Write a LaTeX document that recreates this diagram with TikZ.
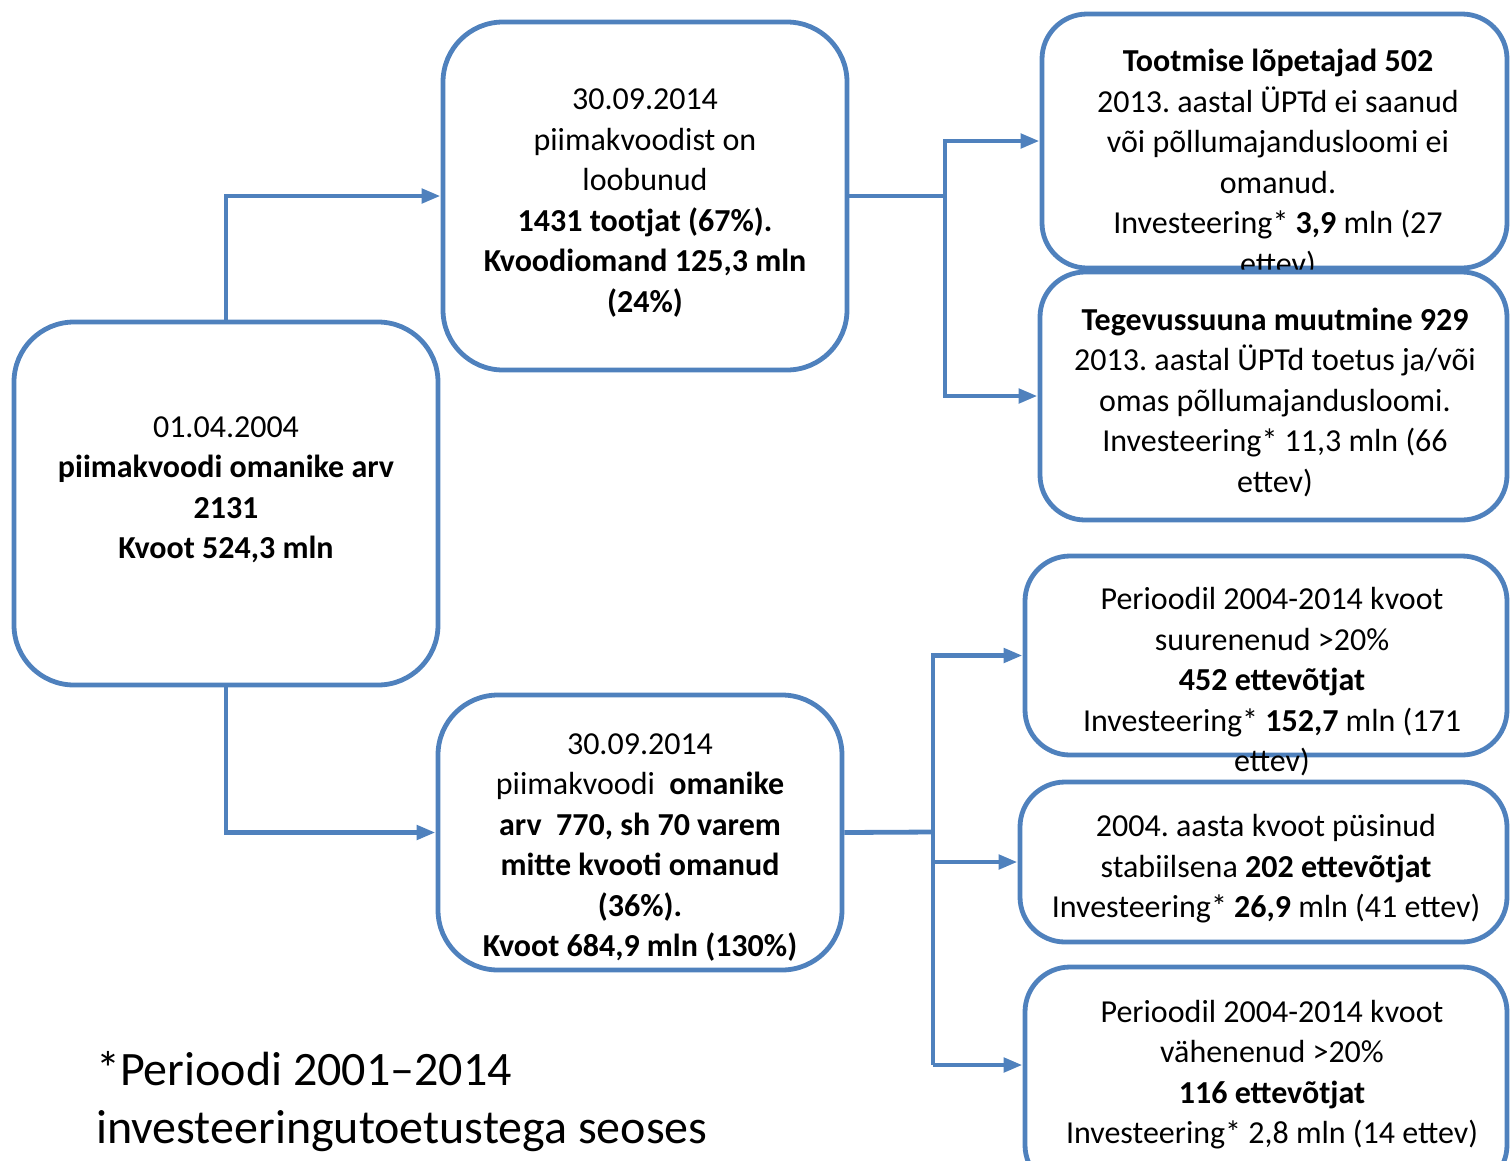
\documentclass[tikz,border=0pt]{standalone}
\usepackage{fontspec}
\setmainfont{Carlito}
\usetikzlibrary{arrows.meta}
\definecolor{ob}{RGB}{79,129,189}
\frenchspacing
\begin{document}
\begin{tikzpicture}[x=1pt,y=-1pt,
  box/.style={draw=ob,fill=white,line width=4.8pt,rounded corners=#1,inner sep=0pt},
  box/.default=45pt,
  txt/.style={align=center,font=\fontsize{32}{40.5}\selectfont,inner sep=0pt},
  conn/.style={draw=ob,line width=4.8pt},
  arr/.style={conn,-{Triangle[length=19pt,width=14pt]}}]
\useasboundingbox (0,0) rectangle (1510,1160);
\clip (0,0) rectangle (1510,1160);

% left box
\node[box=60pt,minimum width=424pt,minimum height=363pt] (A) at (226,503.5) {};
\node[txt] (At) at (226,490) {01.04.2004\\ \textbf{piimakvoodi omanike arv}\\ \textbf{2131}\\ \textbf{Kvoot 524,3 mln}};

% middle boxes
\node[box=60pt,minimum width=404pt,minimum height=348pt] (B) at (645,196) {};
\node[txt] (Bt) at (645,203) {30.09.2014\\ piimakvoodist on\\ loobunud\\ \textbf{1431 tootjat (67\%).}\\ \textbf{Kvoodiomand 125,3 mln}\\ \textbf{(24\%)}};

\node[box=60pt,minimum width=404pt,minimum height=275pt] (C) at (640,832.5) {};
\node[txt] (Ct) at (640,847.5) {30.09.2014\\ piimakvoodi\ \ \textbf{omanike}\\ \textbf{arv\ \ 770, sh 70 varem}\\ \textbf{mitte kvooti omanud}\\ \textbf{(36\%).}\\ \textbf{Kvoot 684,9 mln (130\%)}};

% right boxes
\node[box,minimum width=465pt,minimum height=254pt] (D) at (1274.5,141) {};
\node[txt] (Dt) at (1278,164) {\textbf{Tootmise lõpetajad 502}\\ 2013. aastal ÜPTd ei saanud\\ või põllumajandusloomi ei\\ omanud.\\ Investeering* \textbf{3,9} mln (27\\ ettev)};

\node[box,minimum width=467pt,minimum height=248pt] (E) at (1273.5,396) {};
\node[txt] (Et) at (1275,402) {\textbf{Tegevussuuna muutmine 929}\\ 2013. aastal ÜPTd toetus ja/või\\ omas põllumajandusloomi.\\ Investeering* 11,3 mln (66\\ ettev)};

\node[box,minimum width=482pt,minimum height=199pt] (F) at (1266,655.5) {};
\node[txt] (Ft) at (1272,682) {Perioodil 2004-2014 kvoot\\ suurenenud >20\%\\ \textbf{452 ettevõtjat}\\ Investeering* \textbf{152,7} mln (171\\ ettev)};

\node[box,minimum width=487pt,minimum height=160pt] (G) at (1263.5,862) {};
\node[txt] (Gt) at (1266,869) {2004. aasta kvoot püsinud\\ stabiilsena \textbf{202 ettevõtjat}\\ Investeering* \textbf{26,9} mln (41 ettev)};

\node[box,minimum width=482pt,minimum height=223pt] (H) at (1266,1078.5) {};
\node[txt] (Ht) at (1272,1074.5) {Perioodil 2004-2014 kvoot\\ vähenenud >20\%\\ \textbf{116 ettevõtjat}\\ Investeering* 2,8 mln (14 ettev)};

% footnote
\node[align=left,anchor=west,inner sep=0pt,font=\fontsize{48}{58}\selectfont] (note) at (96,1102) {*Perioodi 2001–2014\\ investeeringutoetustega seoses};

% connectors
\draw[arr] (A.north) |- (B.west);
\draw[arr] (A.south) |- (C.west);
\coordinate (bj) at (945,196);
\draw[conn] (B.east) -- (bj);
\draw[arr] (bj) |- (D.west);
\draw[arr] (bj) |- (E.west);
\coordinate (cj) at (933,832);
\coordinate (hj) at (933,1065);
\draw[conn] (C.east) -- (cj);
\draw[arr] (cj) |- (F.west);
\draw[arr] (cj) |- (G.west);
\draw[conn] (cj) -- (hj);
\draw[arr] (hj) -- (hj -| H.west);
\end{tikzpicture}
\end{document}
